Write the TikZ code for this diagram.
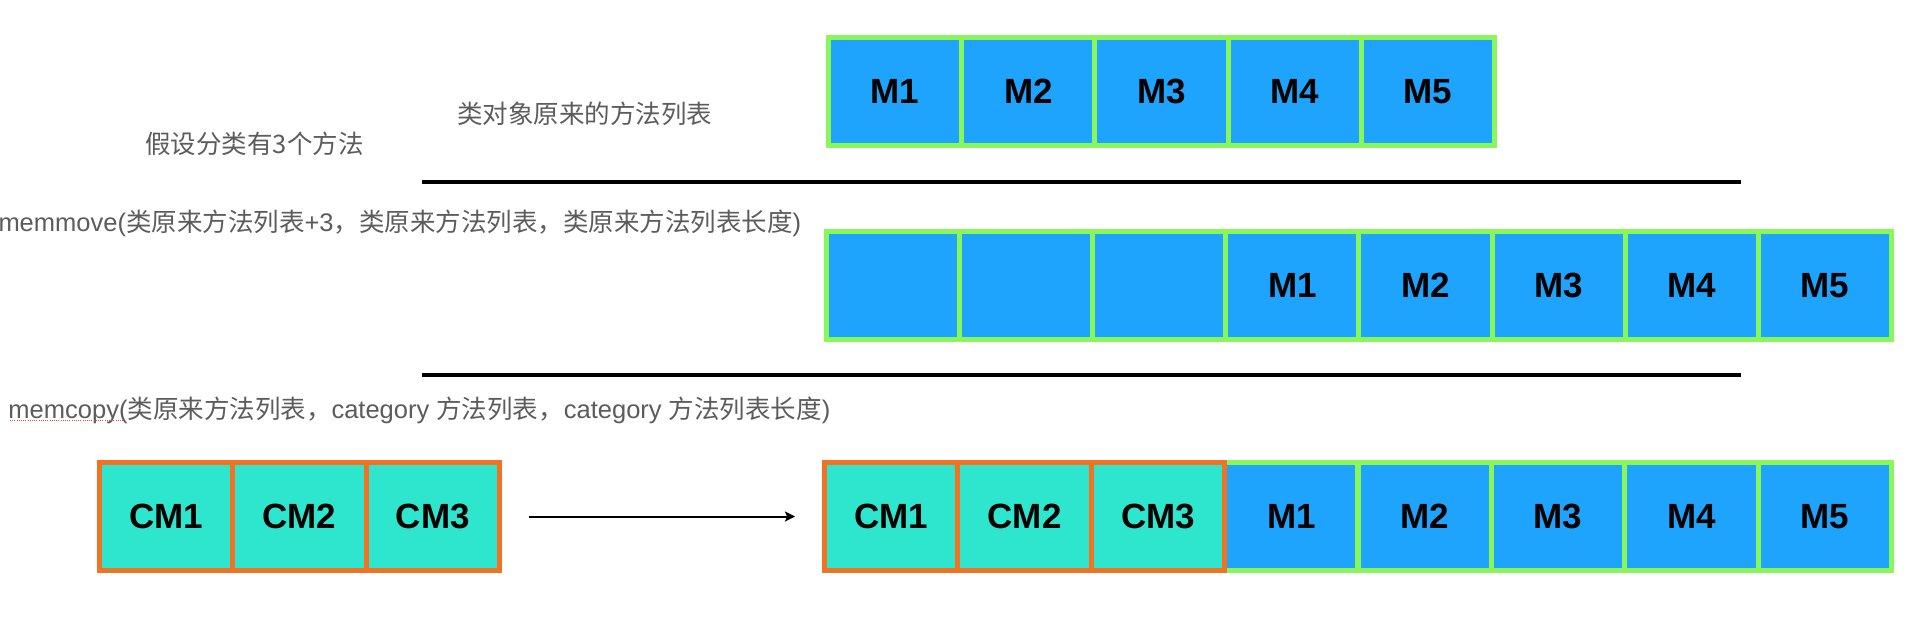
\documentclass[tikz,border=0pt]{standalone}
\usepackage{fontspec}
\setmainfont{Liberation Sans}
\newfontfamily\cjk{Noto Sans CJK SC}
\usetikzlibrary{arrows.meta}
\definecolor{mblue}{RGB}{30,164,252}
\definecolor{mgreen}{RGB}{137,246,89}
\definecolor{cteal}{RGB}{46,230,206}
\definecolor{corange}{RGB}{240,114,34}
\definecolor{lblgray}{RGB}{92,92,92}
\definecolor{spellred}{RGB}{235,70,70}
\newcommand{\boxfont}{\fontsize{35}{40}\selectfont\bfseries}
\newcommand{\lblfont}{\fontsize{25.5}{30}\selectfont}
\tikzset{
  mbox/.style={draw=mgreen, fill=mblue, line width=5pt, minimum width=133.3pt,
    minimum height=108pt, inner sep=0pt, outer sep=0pt, font=\boxfont, text=black},
  cbox/.style={mbox, draw=corange, fill=cteal},
  lbl/.style={inner sep=0pt, outer sep=0pt, font=\lblfont, text=lblgray},
  sepline/.style={line width=4pt, black},
  flow/.style={line width=2pt, black, -{Stealth[length=10pt,width=10pt,inset=2pt]}}
}
\begin{document}
\begin{tikzpicture}[x=1pt,y=-1pt]
\useasboundingbox (0,0) rectangle (1924,642);
\fill[white] (0,0) rectangle (1924,642);

% labels
\node[lbl, anchor=base] (lblA) at (254.5,153.5) {\cjk 假设分类有3个方法};
\node[lbl, anchor=base] (lblB) at (584.5,123) {\cjk 类对象原来的方法列表};
\node[lbl, anchor=base west] (lblC) at (-1.5,231.5) {memmove({\cjk 类原来方法列表}+3{\cjk ，类原来方法列表，类原来方法列表长度})};
\node[lbl, anchor=base west] (lblD) at (8.5,418.5) {memcopy({\cjk 类原来方法列表，}category {\cjk 方法列表，}category {\cjk 方法列表长度})};
\coordinate (ulA) at (10,420);
\coordinate (ulB) at (124,420);
\draw[spellred, line width=1pt, dash pattern=on 1pt off 1.2pt] (ulA) -- (ulB);

% top row
\foreach \i in {1,...,5} {
  \node[mbox] (t\i) at ({828.5+133.2*(\i-0.5)},91.5) {M\i};
}

% separator lines
\coordinate (s1a) at (422,182);
\coordinate (s1b) at (1741,182);
\coordinate (s2a) at (422,375);
\coordinate (s2b) at (1741,375);
\draw[sepline] (s1a) -- (s1b);
\draw[sepline] (s2a) -- (s2b);

% middle row
\foreach \i in {1,2,3} {
  \node[mbox] (m\i) at ({826.5+133.125*(\i-0.5)},285.5) {};
}
\foreach \i/\t in {4/1,5/2,6/3,7/4,8/5} {
  \node[mbox] (m\i) at ({826.5+133.125*(\i-0.5)},285.5) {M\t};
}

% bottom left
\foreach \i in {1,2,3} {
  \node[cbox] (l\i) at ({99.5+133.33*(\i-0.5)},516.5) {CM\i};
}

% bottom right
\foreach \i/\t in {4/1,5/2,6/3,7/4,8/5} {
  \node[mbox] (r\i) at ({824.5+133.375*(\i-0.5)},516.5) {M\t};
}
\foreach \i in {1,2,3} {
  \node[cbox] (r\i) at ({824.5+133.375*(\i-0.5)},516.5) {CM\i};
}

% arrow
\draw[flow, shorten <=29.5pt, shorten >=29.5pt] (l3.east) -- (r1.west);
\end{tikzpicture}
\end{document}
